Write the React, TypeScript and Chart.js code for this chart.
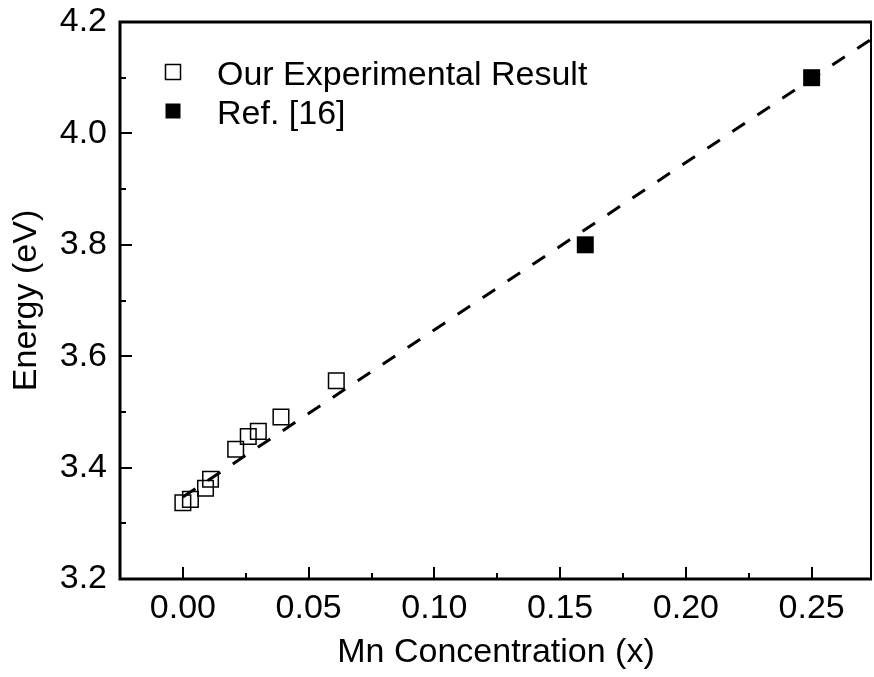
import React, { useEffect, useRef } from "react";
import { Chart, registerables } from "chart.js";

Chart.register(...registerables);

// ---- data ----
const expX = [0.0, 0.003, 0.009, 0.011, 0.021, 0.026, 0.030, 0.039, 0.061];
const expY = [3.337, 3.343, 3.363, 3.379, 3.433, 3.456, 3.465, 3.491, 3.556];
const refX = [0.16, 0.25];
const refY = [3.80, 4.10];
const fitX = [0.0, 0.275];
const fitY = [3.347, 4.173];
const xTicks = [0.0, 0.05, 0.1, 0.15, 0.2, 0.25];
const xMinorTicks = [0.025, 0.075, 0.125, 0.175, 0.225];
const yTicks = [3.2, 3.4, 3.6, 3.8, 4.0, 4.2];
const yMinorTicks = [3.3, 3.5, 3.7, 3.9, 4.1];
const legendLabels = ["Our Experimental Result", "Ref. [16]"];
const xTitle = "Mn Concentration (x)";
const yTitle = "Energy (eV)";

const FONT = "'Liberation Sans', Arial, Helvetica, sans-serif";

const framePlugin = {
  id: "frame",
  afterDraw(chart: any) {
    const { ctx, chartArea: a, scales } = chart;
    const xs = scales.x;
    const ys = scales.y;
    ctx.save();
    ctx.strokeStyle = "#000";
    ctx.lineCap = "butt";
    // inward ticks
    ctx.lineWidth = 2;
    ctx.beginPath();
    xTicks.forEach((v) => {
      const px = Math.round(xs.getPixelForValue(v));
      ctx.moveTo(px, a.bottom);
      ctx.lineTo(px, a.bottom - 12);
    });
    xMinorTicks.forEach((v) => {
      const px = Math.round(xs.getPixelForValue(v));
      ctx.moveTo(px, a.bottom);
      ctx.lineTo(px, a.bottom - 6);
    });
    yTicks.forEach((v) => {
      const py = Math.round(ys.getPixelForValue(v));
      ctx.moveTo(a.left, py);
      ctx.lineTo(a.left + 12, py);
    });
    yMinorTicks.forEach((v) => {
      const py = Math.round(ys.getPixelForValue(v));
      ctx.moveTo(a.left, py);
      ctx.lineTo(a.left + 6, py);
    });
    ctx.stroke();
    // frame
    ctx.lineWidth = 3;
    ctx.beginPath();
    ctx.moveTo(a.right, a.top);
    ctx.lineTo(a.left, a.top);
    ctx.lineTo(a.left, a.bottom);
    ctx.lineTo(a.right, a.bottom);
    ctx.stroke();
    ctx.lineWidth = 2;
    ctx.beginPath();
    ctx.moveTo(a.right - 1, a.top);
    ctx.lineTo(a.right - 1, a.bottom);
    ctx.stroke();

    // legend
    const mx = a.left + 53;
    const rows = [a.top + 50, a.top + 89];
    const side = 15;
    ctx.lineWidth = 1.5;
    ctx.strokeRect(mx - side / 2, rows[0] - side / 2, side, side);
    ctx.fillStyle = "#000";
    ctx.fillRect(mx - side / 2, rows[1] - side / 2, side, side);
    ctx.font = `34px ${FONT}`;
    ctx.textAlign = "left";
    ctx.textBaseline = "alphabetic";
    ctx.fillText(legendLabels[0], a.left + 97, rows[0] + 13);
    ctx.fillText(legendLabels[1], a.left + 97, rows[1] + 13);
    ctx.restore();
  },
};

export default function App() {
  const ref = useRef<HTMLCanvasElement | null>(null);

  useEffect(() => {
    document.body.style.margin = "0";
    const canvas = ref.current;
    if (!canvas) return;
    const chart = new Chart(canvas, {
      type: "scatter",
      data: {
        datasets: [
          {
            label: legendLabels[0],
            data: expX.map((x, i) => ({ x, y: expY[i] })),
            pointStyle: "rect",
            pointRadius: 11,
            pointHoverRadius: 11,
            backgroundColor: "rgba(0,0,0,0)",
            borderColor: "#000",
            borderWidth: 1.5,
          },
          {
            label: legendLabels[1],
            data: refX.map((x, i) => ({ x, y: refY[i] })),
            pointStyle: "rect",
            pointRadius: 12,
            pointHoverRadius: 12,
            backgroundColor: "#000",
            borderColor: "#000",
            borderWidth: 0,
          },
          {
            label: "fit",
            data: fitX.map((x, i) => ({ x, y: fitY[i] })),
            showLine: true,
            borderColor: "#000",
            borderWidth: 3,
            borderDash: [15, 15],
            pointRadius: 0,
            pointHoverRadius: 0,
            fill: false,
          } as any,
        ],
      },
      options: {
        responsive: false,
        animation: false,
        events: [],
        layout: { autoPadding: false, padding: { top: 22, right: 2, left: 0, bottom: 0 } },
        plugins: {
          legend: { display: false },
          tooltip: { enabled: false },
        },
        scales: {
          x: {
            type: "linear",
            min: -0.025,
            max: 0.274,
            grid: { display: false, drawTicks: false },
            border: { display: false },
            afterFit: (s: any) => {
              s.height = 98;
              s.paddingLeft = 0;
              s.paddingRight = 0;
            },
            afterBuildTicks: (s: any) => {
              s.ticks = xTicks.map((v) => ({ value: v }));
            },
            ticks: {
              color: "#000",
              padding: 9,
              font: { size: 34, family: FONT },
              callback: (v: any) => Number(v).toFixed(2),
            },
            title: {
              display: true,
              text: xTitle,
              color: "#000",
              font: { size: 34, family: FONT },
              padding: { top: 0, bottom: 4 },
            },
          },
          y: {
            type: "linear",
            min: 3.2,
            max: 4.2,
            grid: { display: false, drawTicks: false },
            border: { display: false },
            afterFit: (s: any) => {
              s.width = 120;
              s.paddingTop = 0;
              s.paddingBottom = 0;
            },
            afterBuildTicks: (s: any) => {
              s.ticks = yTicks.map((v) => ({ value: v }));
            },
            ticks: {
              color: "#000",
              padding: 13,
              font: { size: 34, family: FONT },
              callback: (v: any) => Number(v).toFixed(1),
            },
            title: {
              display: true,
              text: yTitle,
              color: "#000",
              font: { size: 34, family: FONT },
              padding: { top: 6, bottom: 0 },
            },
          },
        },
      },
      plugins: [framePlugin],
    });
    return () => chart.destroy();
  }, []);

  return (
    <div style={{ width: 874, height: 677, background: "#fff" }}>
      <canvas ref={ref} width={874} height={677} style={{ display: "block" }} />
    </div>
  );
}
